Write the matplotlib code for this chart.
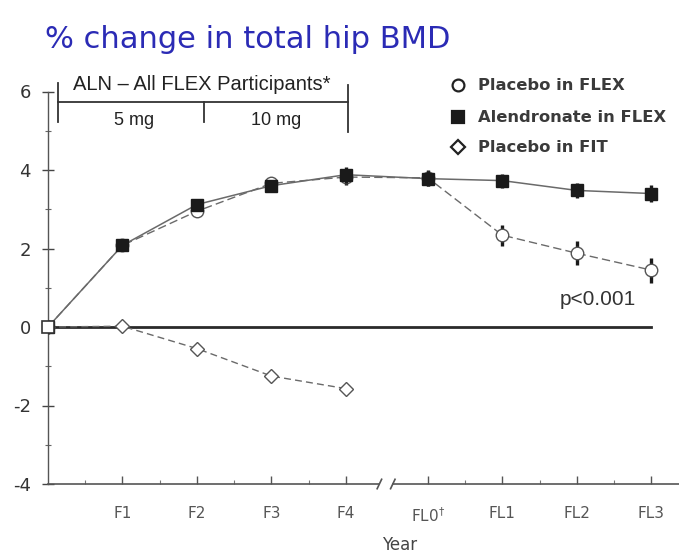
import matplotlib
matplotlib.use("Agg")
import matplotlib.pyplot as plt
from matplotlib.lines import Line2D

# ---- data -------------------------------------------------------------
visits = ["", "F1", "F2", "F3", "F4", "FL0$^{\\dagger}$", "FL1", "FL2", "FL3"]
visit_pos = [0, 1, 2, 3, 4, 5.1, 6.1, 7.1, 8.1]

aln_flex = [0, 2.08, 3.12, 3.60, 3.88, 3.78, 3.73, 3.48, 3.40]
aln_flex_err = [0, 0.08, 0.12, 0.15, 0.20, 0.20, 0.18, 0.20, 0.22]

pbo_flex = [0, 2.08, 2.95, 3.66, 3.82, 3.80, 2.34, 1.88, 1.45]
pbo_flex_err = [0, 0.08, 0.15, 0.15, 0.20, 0.20, 0.27, 0.30, 0.32]

pbo_fit = [0, 0.02, -0.55, -1.25, -1.57]
fit_pos = visit_pos[:5]

legend_labels = ["Placebo in FLEX", "Alendronate in FLEX", "Placebo in FIT"]
y_ticks = [6, 4, 2, 0, -2, -4]

# ---- figure -----------------------------------------------------------
W, H = 679, 555
fig = plt.figure(figsize=(W / 100, H / 100), dpi=100)
ax = fig.add_axes([48 / W, 1 - 484 / H, 633 / W, (484 - 91.5) / H])
ax.set_xlim(0, 8.5)
ax.set_ylim(-4, 6)

line_col = "#6a6a6a"
mark_col = "#1a1a1a"

# reference line at zero
ax.plot([0, 8.1], [0, 0], color="#2a2a2a", lw=2.0, zorder=2)

# placebo in FIT
ax.plot(fit_pos, pbo_fit, color=line_col, lw=1.0, ls=(0, (5, 3)),
        marker="D", ms=7, mfc="white", mec="#555555", mew=1.0, zorder=3)

# placebo in FLEX
ax.errorbar(visit_pos, pbo_flex, yerr=pbo_flex_err, color=line_col, lw=1.0,
            ls=(0, (6, 3)), marker="o", ms=9, mfc="white", mec="#555555",
            mew=1.0, ecolor=mark_col, elinewidth=2.4, capsize=0, zorder=4)

# alendronate in FLEX
ax.errorbar(visit_pos, aln_flex, yerr=aln_flex_err, color=line_col, lw=1.1,
            ls="-", marker="s", ms=9, mfc=mark_col, mec=mark_col,
            ecolor=mark_col, elinewidth=2.4, capsize=0, zorder=5)

# baseline point drawn open on top
ax.plot([0], [0], marker="s", ms=8, mfc="white", mec="#333333", mew=1.2,
        zorder=6, clip_on=False)

# ---- axes styling -----------------------------------------------------
for s in ["top", "right", "bottom"]:
    ax.spines[s].set_visible(False)
ax.spines["left"].set_color("#555555")
ax.spines["left"].set_linewidth(1.0)

# broken bottom axis
axis_kw = dict(color="#555555", lw=1.2, clip_on=False, zorder=2)
ax.plot([0, 4.45], [-4, -4], **axis_kw)
ax.plot([4.63, 8.5], [-4, -4], **axis_kw)
ax.plot([4.42, 4.48], [-4.12, -3.88], **axis_kw)
ax.plot([4.60, 4.66], [-4.12, -3.88], **axis_kw)

ax.set_yticks(y_ticks)
ax.set_yticklabels([str(t) for t in y_ticks])
ax.set_yticks([5, 3, 1, -1, -3], minor=True)
ax.tick_params(axis="y", which="major", direction="inout", length=9,
               width=1.0, color="#444444", labelsize=13, pad=8,
               labelcolor="#333333")
ax.tick_params(axis="y", which="minor", direction="inout", length=5,
               width=0.8, color="#666666")

ax.set_xticks(visit_pos[1:])
ax.set_xticklabels(visits[1:])
ax.set_xticks([0.5, 1.5, 2.5, 3.5, 5.6, 6.6, 7.6], minor=True)
ax.tick_params(axis="x", which="major", direction="in", length=6,
               width=1.0, color="#555555", labelsize=11, pad=16,
               labelcolor="#555555")
ax.tick_params(axis="x", which="minor", direction="in", length=3,
               width=0.8, color="#777777")

fig.text(400 / W, 1 - 545 / H, "Year", ha="center", va="center",
         fontsize=12, color="#444444")

# ---- treatment bracket ------------------------------------------------
br_kw = dict(color="#333333", lw=1.3, clip_on=False)
ax.plot([0.13, 4.03], [5.73, 5.73], **br_kw)
ax.plot([0.13, 0.13], [5.22, 6.22], **br_kw)
ax.plot([4.03, 4.03], [4.97, 6.17], **br_kw)
ax.plot([2.09, 2.09], [5.22, 5.73], **br_kw)
ax.text(2.07, 6.19, "ALN \u2013 All FLEX Participants*", ha="center",
        va="center", fontsize=14.5, family="Liberation Sans", color="#222222",
        clip_on=False)
ax.text(1.15, 5.25, "5 mg", ha="center", va="center", fontsize=13,
        family="Liberation Sans", color="#222222")
ax.text(3.06, 5.25, "10 mg", ha="center", va="center", fontsize=13,
        family="Liberation Sans", color="#222222")

ax.text(7.38, 0.71, "p<0.001", ha="center", va="center", fontsize=15,
        family="Liberation Sans", color="#333333")

# ---- legend -----------------------------------------------------------
leg_markers = [
    dict(marker="o", mfc="white", mec="#222222"),
    dict(marker="s", mfc="#1a1a1a", mec="#1a1a1a"),
    dict(marker="D", mfc="white", mec="#222222"),
]
leg_rows = [85, 117, 147]
for lab, mk, yy in zip(legend_labels, leg_markers, leg_rows):
    fy = 1 - yy / H
    fig.add_artist(Line2D([458 / W], [fy], transform=fig.transFigure,
                          ls="none", ms=8.5 if mk["marker"] != "D" else 7,
                          mew=1.6, **mk))
    fig.text(478 / W, fy, lab, ha="left", va="center", fontsize=11.8,
             fontweight="bold", color="#3a3a3a")

# ---- title ------------------------------------------------------------
fig.text(45 / W, 1 - 40 / H, "% change in total hip BMD", ha="left",
         va="center", fontsize=22, color="#2b2bb5")

fig.savefig("out.png", dpi=100)
